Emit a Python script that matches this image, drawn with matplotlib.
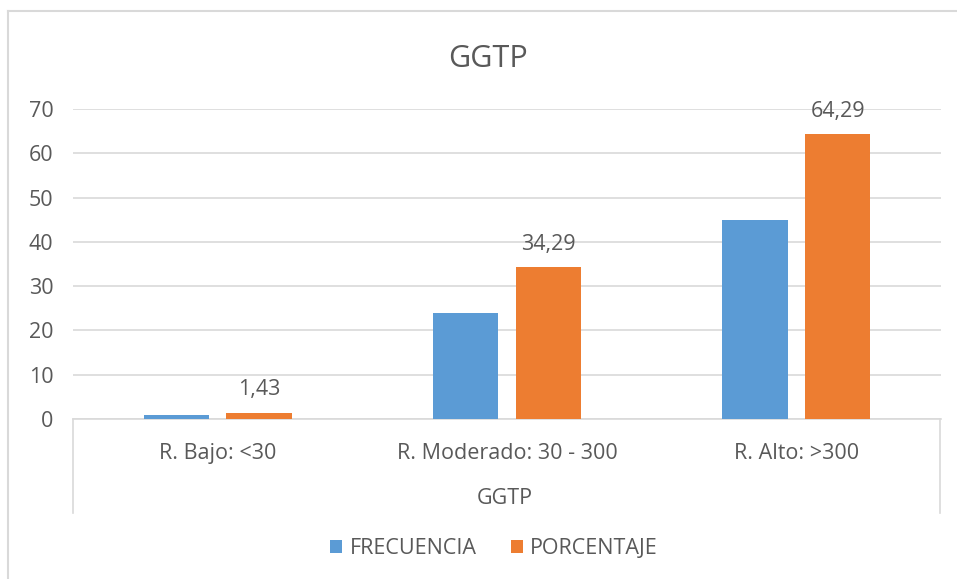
import matplotlib.pyplot as plt
import numpy as np
from matplotlib.lines import Line2D

categories = ["R. Bajo: <30", "R. Moderado: 30 - 300", "R. Alto: >300"]
frecuencia = [1, 24, 45]
porcentaje = [1.43, 34.29, 64.29]
porcentaje_labels = ["1,43", "34,29", "64,29"]
yticks = [0, 10, 20, 30, 40, 50, 60, 70]

BLUE = "#5B9BD5"
ORANGE = "#ED7D31"
TEXT = "#595959"
GRID = "#D9D9D9"
FS = 15.5

plt.rcParams["font.family"] = ["Open Sans", "DejaVu Sans"]

W, H = 957, 579
fig = plt.figure(figsize=(W / 100, H / 100), dpi=100)
ax = fig.add_axes([73 / W, 1 - 419 / H, (941 - 73) / W, (419 - 109) / H])

x = np.arange(len(categories))
off = 0.143
width = 0.225
ax.bar(x - off, frecuencia, width, color=BLUE, label="FRECUENCIA", zorder=3)
bars = ax.bar(x + off, porcentaje, width, color=ORANGE, label="PORCENTAJE", zorder=3)

# data labels only on the percentage series
for b, lab in zip(bars, porcentaje_labels):
    ax.annotate(lab, (b.get_x() + b.get_width() / 2, b.get_height()),
                xytext=(0, 9), textcoords="offset points",
                ha="center", va="bottom", fontsize=FS, color=TEXT)

ax.set_xlim(-0.5, 2.5)
ax.set_ylim(0, 70)
ax.set_yticks(yticks)
ax.set_xticks(x)
ax.set_xticklabels(categories)
ax.yaxis.grid(True, color=GRID, linewidth=1.2, zorder=0)
ax.tick_params(axis="y", length=0, pad=14, labelsize=FS, labelcolor=TEXT)
ax.tick_params(axis="x", length=0, pad=17, labelsize=FS, labelcolor=TEXT)
for s in ["top", "right", "left"]:
    ax.spines[s].set_visible(False)
ax.spines["bottom"].set_color(GRID)
ax.spines["bottom"].set_linewidth(1.2)

# category axis box edges (Excel style)
for xp in [73, 940]:
    fig.add_artist(Line2D([xp / W, xp / W], [1 - 419 / H, 1 - 513 / H],
                          color=GRID, linewidth=1.2))

# chart frame (left and top only, the rest is cropped)
fig.add_artist(Line2D([8 / W, 8 / W], [0, 1 - 11 / H], color=GRID, linewidth=1.5))
fig.add_artist(Line2D([8 / W, 1], [1 - 11 / H, 1 - 11 / H], color=GRID, linewidth=1.5))

fig.text(487.5 / W, 1 - 67 / H, "GGTP", ha="center", va="baseline", fontsize=22, color=TEXT)
fig.text(505 / W, 1 - 504 / H, "GGTP", ha="center", va="baseline", fontsize=FS, color=TEXT)

fig.legend(loc="center", bbox_to_anchor=(494 / W, 1 - 549 / H), ncol=2, frameon=False,
           fontsize=FS, labelcolor=TEXT, handlelength=0.55, handleheight=0.55,
           handletextpad=0.35, columnspacing=1.6)

fig.savefig("out.png", dpi=100)
